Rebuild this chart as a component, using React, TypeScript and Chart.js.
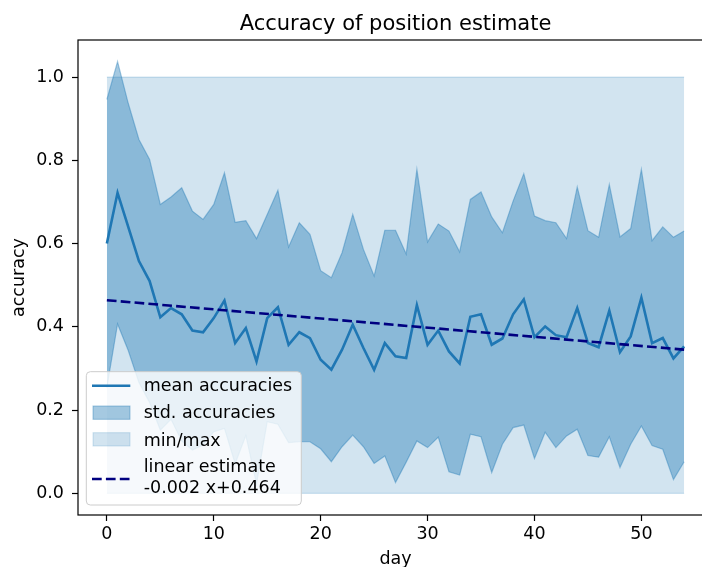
import React, { useEffect, useRef } from 'react';
import { Chart, registerables } from 'chart.js';

Chart.register(...registerables);

const DAYS = [
  0, 1, 2, 3, 4, 5, 6, 7, 8, 9, 10, 11, 12, 13, 14, 15, 16, 17, 18, 19,
  20, 21, 22, 23, 24, 25, 26, 27, 28, 29, 30, 31, 32, 33, 34, 35, 36, 37, 38, 39,
  40, 41, 42, 43, 44, 45, 46, 47, 48, 49, 50, 51, 52, 53, 54,
];

const MEAN_ACC = [
  0.600, 0.722, 0.640, 0.558, 0.510, 0.423, 0.445, 0.430, 0.391, 0.387,
  0.421, 0.463, 0.361, 0.397, 0.317, 0.421, 0.447, 0.357, 0.387, 0.373,
  0.321, 0.297, 0.345, 0.405, 0.349, 0.297, 0.361, 0.329, 0.325, 0.452,
  0.357, 0.391, 0.341, 0.312, 0.424, 0.430, 0.357, 0.372, 0.430, 0.466,
  0.375, 0.401, 0.380, 0.375, 0.445, 0.361, 0.351, 0.439, 0.339, 0.377,
  0.470, 0.361, 0.373, 0.324, 0.353,
];

const STD_ACC = [
  0.346, 0.315, 0.297, 0.292, 0.292, 0.271, 0.267, 0.304, 0.287, 0.271,
  0.273, 0.307, 0.290, 0.258, 0.295, 0.249, 0.281, 0.235, 0.263, 0.249,
  0.214, 0.221, 0.233, 0.265, 0.237, 0.225, 0.271, 0.303, 0.250, 0.326,
  0.247, 0.256, 0.289, 0.268, 0.282, 0.294, 0.307, 0.254, 0.272, 0.302,
  0.291, 0.254, 0.270, 0.237, 0.291, 0.270, 0.264, 0.303, 0.277, 0.259,
  0.308, 0.246, 0.267, 0.291, 0.277,
];

const MIN_ACC = [
  0, 0, 0, 0, 0, 0, 0, 0, 0, 0, 0, 0, 0, 0, 0, 0, 0, 0, 0, 0,
  0, 0, 0, 0, 0, 0, 0, 0, 0, 0, 0, 0, 0, 0, 0, 0, 0, 0, 0, 0,
  0, 0, 0, 0, 0, 0, 0, 0, 0, 0, 0, 0, 0, 0, 0,
];

const MAX_ACC = [
  1, 1, 1, 1, 1, 1, 1, 1, 1, 1, 1, 1, 1, 1, 1, 1, 1, 1, 1, 1,
  1, 1, 1, 1, 1, 1, 1, 1, 1, 1, 1, 1, 1, 1, 1, 1, 1, 1, 1, 1,
  1, 1, 1, 1, 1, 1, 1, 1, 1, 1, 1, 1, 1, 1, 1,
];

const TREND_SLOPE = -0.0022;
const TREND_INTERCEPT = 0.464;

const X_TICKS = [0, 10, 20, 30, 40, 50];
const Y_TICKS = [0, 0.2, 0.4, 0.6, 0.8, 1.0];

const TITLE = 'Accuracy of position estimate';
const X_LABEL = 'day';
const Y_LABEL = 'accuracy';
const LEGEND_LABELS = ['mean accuracies', 'std. accuracies', 'min/max', 'linear estimate', '-0.002 x+0.464'];

const FONT = 'DejaVu Sans';
const C0 = '#1f77b4';
const STD_FILL = 'rgba(31,119,180,0.4)';
const MM_FILL = 'rgba(31,119,180,0.2)';
const NAVY = '#000080';
const DASH = [9.7, 4.2];

export default function App() {
  const ref = useRef<HTMLCanvasElement>(null);

  useEffect(() => {
    const canvas = ref.current;
    if (!canvas) return;

    const pts = (ys: number[]) => DAYS.map((d, i) => ({ x: d, y: ys[i] }));
    const upper = MEAN_ACC.map((m, i) => m + STD_ACC[i]);
    const lower = MEAN_ACC.map((m, i) => m - STD_ACC[i]);
    const firstDay = DAYS[0];
    const lastDay = DAYS[DAYS.length - 1];
    const trend = [
      { x: firstDay, y: TREND_INTERCEPT + TREND_SLOPE * firstDay },
      { x: lastDay, y: TREND_INTERCEPT + TREND_SLOPE * lastDay },
    ];

    const decor = {
      id: 'decor',
      afterDraw(chart: any) {
        const { ctx, chartArea: a } = chart;
        ctx.save();
        // spines
        ctx.strokeStyle = '#000';
        ctx.lineWidth = 1.2;
        ctx.strokeRect(a.left, a.top, a.right - a.left, a.bottom - a.top);
        // title
        ctx.fillStyle = '#000';
        ctx.font = `21px "${FONT}"`;
        ctx.textAlign = 'center';
        ctx.textBaseline = 'alphabetic';
        ctx.fillText(TITLE, (a.left + a.right) / 2, a.top - 10.5);

        // legend
        const bw = 215;
        const bh = 133.3;
        const bx = a.left + 8.3;
        const by = a.bottom - 10 - bh;
        ctx.beginPath();
        ctx.roundRect(bx, by, bw, bh, 4);
        ctx.fillStyle = 'rgba(255,255,255,0.8)';
        ctx.fill();
        ctx.strokeStyle = '#cccccc';
        ctx.lineWidth = 1;
        ctx.stroke();

        // handle: mean line
        ctx.beginPath();
        ctx.moveTo(bx + 5.7, by + 14);
        ctx.lineTo(bx + 44, by + 14);
        ctx.strokeStyle = C0;
        ctx.lineWidth = 2.6;
        ctx.stroke();
        // handle: std rect
        ctx.fillStyle = STD_FILL;
        ctx.fillRect(bx + 6.7, by + 34.3, 37, 13.3);
        ctx.strokeStyle = STD_FILL;
        ctx.lineWidth = 1;
        ctx.strokeRect(bx + 6.7, by + 34.3, 37, 13.3);
        // handle: min/max rect
        ctx.fillStyle = MM_FILL;
        ctx.fillRect(bx + 6.7, by + 61, 37, 13.3);
        ctx.strokeStyle = MM_FILL;
        ctx.strokeRect(bx + 6.7, by + 61, 37, 13.3);
        // handle: dashed
        ctx.beginPath();
        ctx.setLineDash(DASH);
        ctx.moveTo(bx + 5.7, by + 107.3);
        ctx.lineTo(bx + 44, by + 107.3);
        ctx.strokeStyle = NAVY;
        ctx.lineWidth = 2.6;
        ctx.stroke();
        ctx.setLineDash([]);

        // legend texts
        ctx.fillStyle = '#000';
        ctx.font = `17.5px "${FONT}"`;
        ctx.textAlign = 'left';
        ctx.textBaseline = 'alphabetic';
        const tx = bx + 57.4;
        const baselines = [19.3, 46.6, 74, 100.6, 121];
        LEGEND_LABELS.forEach((t, i) => ctx.fillText(t, tx, by + baselines[i]));
        ctx.restore();
      },
    };

    const chart = new Chart(canvas, {
      type: 'line',
      data: {
        datasets: [
          {
            label: 'linear estimate',
            data: trend,
            borderColor: NAVY,
            borderWidth: 2.6,
            borderDash: DASH,
            pointRadius: 0,
            fill: false,
            order: 0,
          },
          {
            label: 'mean accuracies',
            data: pts(MEAN_ACC),
            borderColor: C0,
            borderWidth: 2.6,
            pointRadius: 0,
            fill: false,
            tension: 0,
            order: 1,
          },
          {
            label: 'std upper',
            data: pts(upper),
            borderColor: STD_FILL,
            backgroundColor: STD_FILL,
            borderWidth: 1.2,
            pointRadius: 0,
            fill: '+1',
            order: 2,
          },
          {
            label: 'std lower',
            data: pts(lower),
            borderColor: STD_FILL,
            borderWidth: 1.2,
            pointRadius: 0,
            fill: false,
            order: 3,
          },
          {
            label: 'max',
            data: pts(MAX_ACC),
            borderColor: MM_FILL,
            backgroundColor: MM_FILL,
            borderWidth: 1.2,
            pointRadius: 0,
            fill: '+1',
            order: 4,
          },
          {
            label: 'min',
            data: pts(MIN_ACC),
            borderColor: MM_FILL,
            borderWidth: 1.2,
            pointRadius: 0,
            fill: false,
            order: 5,
          },
        ],
      },
      options: {
        animation: false,
        responsive: false,
        devicePixelRatio: 1,
        layout: { padding: { top: 40, right: 17, left: 0, bottom: 0 } },
        plugins: {
          legend: { display: false },
          title: { display: false },
          tooltip: { enabled: false },
        },
        scales: {
          x: {
            type: 'linear',
            min: -2.7,
            max: 56.7,
            afterBuildTicks: (s: any) => {
              s.ticks = X_TICKS.map((v) => ({ value: v }));
            },
            afterFit: (s: any) => {
              s.height = 65;
            },
            ticks: {
              font: { family: FONT, size: 17.5 },
              color: '#000',
              padding: 3,
              maxRotation: 0,
              autoSkip: false,
              callback: (v: any) => String(v),
            },
            grid: { drawOnChartArea: false, drawTicks: true, tickLength: 6, color: '#000', tickWidth: 1.2 },
            border: { display: false },
            title: {
              display: true,
              text: X_LABEL,
              font: { family: FONT, size: 17.5 },
              color: '#000',
              padding: { top: 0, bottom: 10.5 },
            },
          },
          y: {
            type: 'linear',
            min: -0.052,
            max: 1.089,
            afterBuildTicks: (s: any) => {
              s.ticks = Y_TICKS.map((v) => ({ value: v }));
            },
            afterFit: (s: any) => {
              s.width = 78;
            },
            ticks: {
              font: { family: FONT, size: 17.5 },
              color: '#000',
              padding: 8,
              autoSkip: false,
              callback: (v: any) => Number(v).toFixed(1),
            },
            grid: { drawOnChartArea: false, drawTicks: true, tickLength: 6, color: '#000', tickWidth: 1.2 },
            border: { display: false },
            title: {
              display: true,
              text: Y_LABEL,
              font: { family: FONT, size: 17.5 },
              color: '#000',
              padding: { top: 8.5, bottom: 0 },
            },
          },
        },
      },
      plugins: [decor],
    } as any);

    return () => chart.destroy();
  }, []);

  return (
    <div
      style={{
        position: 'fixed',
        left: 0,
        top: 0,
        width: 702,
        height: 567,
        overflow: 'hidden',
        background: '#fff',
      }}
    >
      <canvas ref={ref} width={730} height={580} style={{ display: 'block', width: 730, height: 580 }} />
    </div>
  );
}
